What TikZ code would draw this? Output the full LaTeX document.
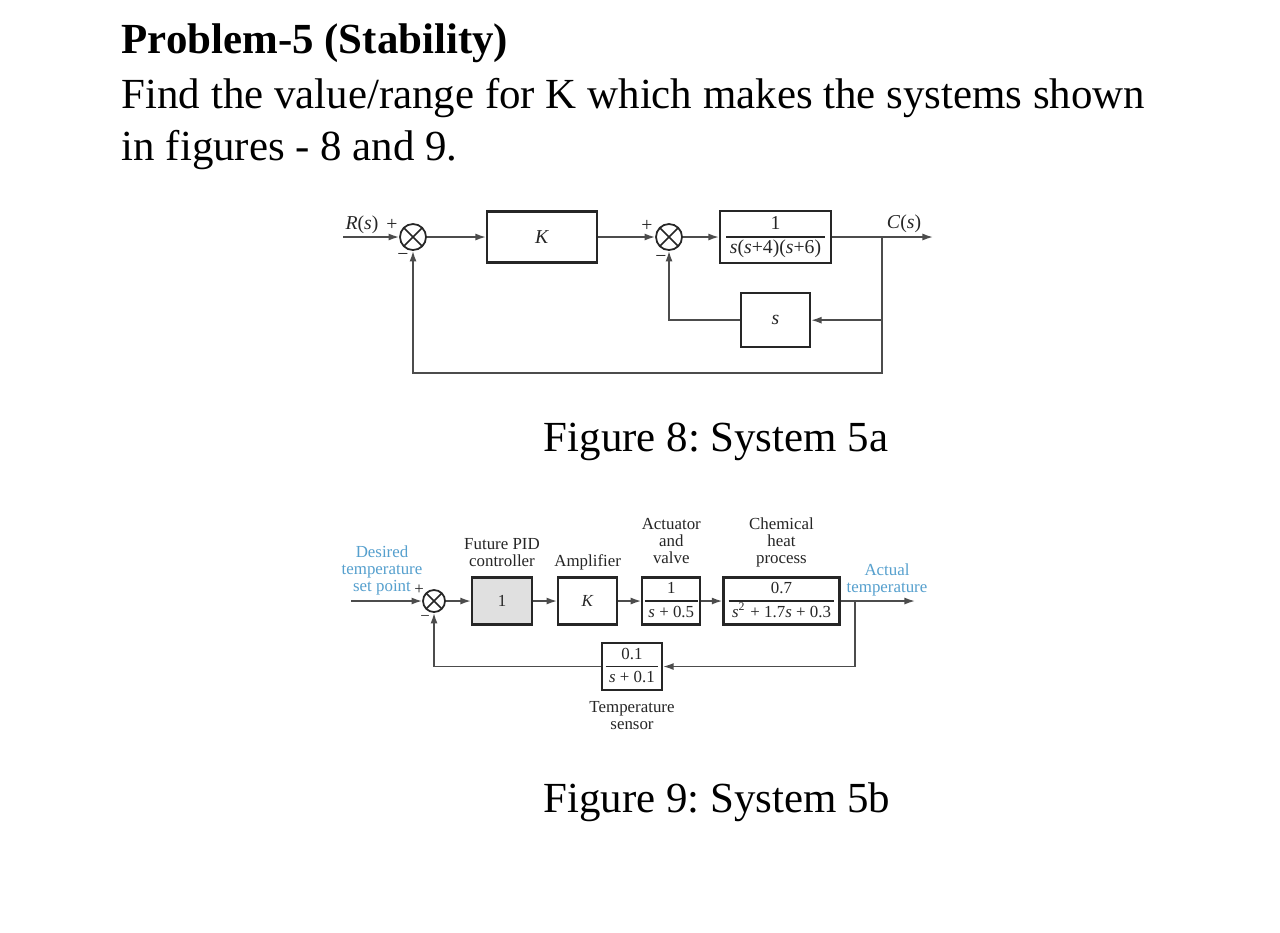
\documentclass[tikz,border=0pt]{standalone}
\usepackage{amsmath}
\usepackage{fontspec}
\setmainfont{Liberation Serif}
\usepackage{tikz}
\usetikzlibrary{arrows.meta,positioning}
\definecolor{setblue}{RGB}{86,160,206}
\newcommand{\blkfrac}[2]{\begin{tabular}{@{\hspace{1pt}}c@{\hspace{1pt}}}#1\\\hline#2\end{tabular}}
\frenchspacing

\begin{document}
\begin{tikzpicture}[
    x=0.01cm, y=-0.01cm,
    >={Latex[length=3pt,width=2pt]},
    block/.style={
		rectangle,
		draw=black!85,
		line width=0.6pt,
		inner sep=0pt,
		text=black!85
	},
	sumnode/.style={
		circle,
		draw=black!85,
		line width=0.5pt,
		inner sep=0pt,
		minimum size=#1,
		path picture={\draw[line width=0.45pt, black!85]
			(path picture bounding box.north west) -- (path picture bounding box.south east)
			(path picture bounding box.south west) -- (path picture bounding box.north east);}
	},
	sig/.style={draw=black!70, line width=0.45pt},
	sgn/.style={inner sep=0pt, text=black!85},
	lbl/.style={align=center, inner sep=0pt, text depth=0pt, text=black!85},
	big/.style={font=\fontsize{12.2}{14}\selectfont, inner sep=0pt}
  ]
  \fill[white] (0,0) rectangle (1280,932);
  \useasboundingbox (0,0) rectangle (1280,932);

  % the text of the problem
  \node [big, anchor=base west] (title) at (121,53) {\bfseries Problem-5 (Stability)};
  \node [big, anchor=base west] (line1) at (121,108) {Find the value/range for K which makes the systems shown};
  \node [big, anchor=base west] (line2) at (121,160) {in figures - 8 and 9.};

  % System 5a
  \begin{scope}[font=\fontsize{5.6}{6.4}\selectfont]
  \node [sumnode=0.26cm] (sumA) at (413,237) {};
  \node [block, minimum width=1.10cm, minimum height=0.51cm, right=0.59cm of sumA] (gainK) {\textit{K}};
  \node [sumnode=0.26cm, right=0.57cm of gainK] (sumB) {};
  \node [block, minimum width=1.11cm, minimum height=0.52cm, right=0.36cm of sumB] (plant)
   {\blkfrac{1}{\textit{s}(\textit{s}+4)(\textit{s}+6)}};
  \node [block, minimum width=0.69cm, minimum height=0.54cm, below=0.28cm of plant] (sbox) {\textit{s}};

  \coordinate (inA) at (343,237);
  \coordinate (outA) at (933,237);
  \coordinate (brA) at (882,237);
  \coordinate (botA) at (882,373);

  \node [sgn] (rA) at (362,225) {\textit{R}(\textit{s})};
  \node [sgn] (cA) at (904,224) {\textit{C}(\textit{s})};
  \node [sgn] (pA) at (392,225) {+};
  \node [sgn] (mA) at (403,257) {−};
  \node [sgn] (pB) at (647,226) {+};
  \node [sgn] (mB) at (661,259) {−};

  \draw [sig,->] (inA) -- (sumA);
  \draw [sig,->] (sumA) -- (gainK);
  \draw [sig,->] (gainK) -- (sumB);
  \draw [sig,->] (sumB) -- (plant);
  \draw [sig,->] (plant) -- (outA);
  \draw [sig,->] (brA) |- (sbox);
  \draw [sig,->] (sbox) -| (sumB);
  \draw [sig,->] (brA) -- (botA) -| (sumA);
  \end{scope}

  \node [big, anchor=base] (capA) at (716,451) {Figure 8: System 5a};

  % System 5b
  \begin{scope}[font=\fontsize{4.8}{4.85}\selectfont\def\arraystretch{1.3}]
  \node [sumnode=0.22cm] (sumC) at (434,601) {};
  \node [block, fill=black!12, minimum width=0.60cm, minimum height=0.47cm, right=0.25cm of sumC] (pid) {1};
  \node [block, minimum width=0.59cm, minimum height=0.47cm, right=0.24cm of pid] (amp) {\textit{K}};
  \node [block, minimum width=0.58cm, minimum height=0.47cm, right=0.23cm of amp] (act)
   {\blkfrac{1}{\textit{s} + 0.5}};
  \node [block, minimum width=1.16cm, minimum height=0.47cm, right=0.21cm of act] (proc)
   {\blkfrac{0.7}{\textit{s}\textsuperscript{2} + 1.7\textit{s} + 0.3}};
  \node [block, minimum width=0.60cm, minimum height=0.47cm] (sensor) at (632,666.5)
   {\blkfrac{0.1}{\textit{s} + 0.1}};

  \node [lbl, above=0.09cm of pid] (pidlbl) {Future PID\\controller};
  \node [lbl, above=0.09cm of amp] (amplbl) {Amplifier};
  \node [lbl, above=0.12cm of act] (actlbl) {Actuator\\and\\valve};
  \node [lbl, above=0.12cm of proc] (proclbl) {Chemical\\heat\\process};
  \node [lbl, below=0.10cm of sensor] (senslbl) {Temperature\\sensor};
  \node [lbl, text=setblue] (desired) at (382,569) {Desired\\temperature\\set point};
  \node [lbl, text=setblue] (actual) at (887,578.5) {Actual\\temperature};

  \coordinate (inC) at (351,601);
  \coordinate (outC) at (915,601);
  \coordinate (brC) at (855,601);

  \node [sgn] (pC) at (419,590) {+};
  \node [sgn] (mC) at (425,618) {−};

  \draw [sig,->] (inC) -- (sumC);
  \draw [sig,->] (sumC) -- (pid);
  \draw [sig,->] (pid) -- (amp);
  \draw [sig,->] (amp) -- (act);
  \draw [sig,->] (act) -- (proc);
  \draw [sig,->] (proc) -- (outC);
  \draw [sig,->] (brC) |- (sensor);
  \draw [sig,->] (sensor) -| (sumC);
  \end{scope}

  \node [big, anchor=base] (capB) at (717,812) {Figure 9: System 5b};

\end{tikzpicture}
\end{document}
